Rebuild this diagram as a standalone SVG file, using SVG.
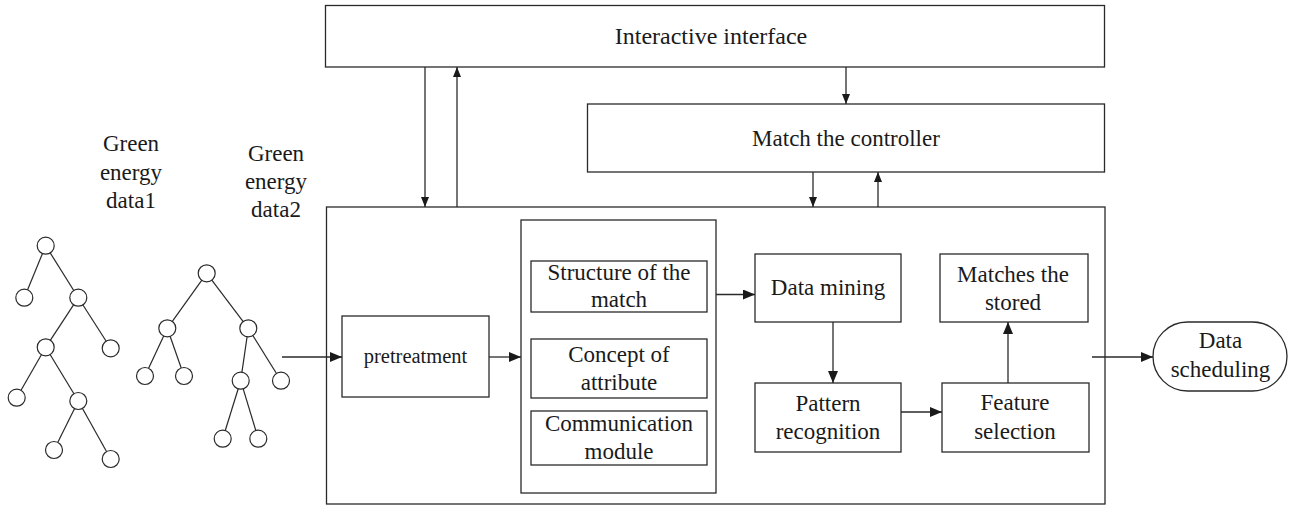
<svg xmlns="http://www.w3.org/2000/svg" width="1296" height="506" viewBox="0 0 1296 506">
<style>
.box{fill:none;stroke:#2a2a2a;stroke-width:1.3}
.ln{fill:none;stroke:#2a2a2a;stroke-width:1.3}
.tl{stroke:#2a2a2a;stroke-width:1.2}
.nd{fill:#fff;stroke:#2a2a2a;stroke-width:1.2}
text{font-family:"Liberation Serif","Times New Roman",serif;font-size:23px;fill:#1a1a1a;text-anchor:middle}
</style>
<defs>
<marker id="ah" viewBox="0 0 12 10" refX="12" refY="5" markerWidth="12" markerHeight="10" markerUnits="userSpaceOnUse" orient="auto"><path d="M0,0 L12,5 L0,10 z" fill="#1a1a1a"/></marker>
<marker id="as" viewBox="0 0 10 8" refX="10" refY="4" markerWidth="10" markerHeight="8" markerUnits="userSpaceOnUse" orient="auto"><path d="M0,0 L10,4 L0,8 z" fill="#1a1a1a"/></marker>
</defs>
<rect width="1296" height="506" fill="#fff"/>

<g id="tree1">
<line class="tl" x1="45.7" y1="245.7" x2="24.3" y2="297.7"/>
<line class="tl" x1="45.7" y1="245.7" x2="78.3" y2="297.7"/>
<line class="tl" x1="78.3" y1="297.7" x2="45.7" y2="347.3"/>
<line class="tl" x1="78.3" y1="297.7" x2="110.7" y2="348.3"/>
<line class="tl" x1="45.7" y1="347.3" x2="16.7" y2="397.7"/>
<line class="tl" x1="45.7" y1="347.3" x2="78.3" y2="401"/>
<line class="tl" x1="78.3" y1="401" x2="54" y2="450"/>
<line class="tl" x1="78.3" y1="401" x2="110.7" y2="459"/>
<circle class="nd" cx="45.7" cy="245.7" r="8.5"/>
<circle class="nd" cx="24.3" cy="297.7" r="8.5"/>
<circle class="nd" cx="78.3" cy="297.7" r="8.5"/>
<circle class="nd" cx="45.7" cy="347.3" r="8.5"/>
<circle class="nd" cx="110.7" cy="348.3" r="8.5"/>
<circle class="nd" cx="16.7" cy="397.7" r="8.5"/>
<circle class="nd" cx="78.3" cy="401" r="8.5"/>
<circle class="nd" cx="54" cy="450" r="8.5"/>
<circle class="nd" cx="110.7" cy="459" r="8.5"/>
<text x="131" y="151">Green</text>
<text x="131" y="180">energy</text>
<text x="131" y="208">data1</text>
</g>

<g id="tree2">
<line class="tl" x1="206.7" y1="273.3" x2="167.3" y2="328.3"/>
<line class="tl" x1="206.7" y1="273.3" x2="248.3" y2="328.3"/>
<line class="tl" x1="167.3" y1="328.3" x2="145" y2="376"/>
<line class="tl" x1="167.3" y1="328.3" x2="184" y2="376"/>
<line class="tl" x1="248.3" y1="328.3" x2="240.7" y2="380.7"/>
<line class="tl" x1="248.3" y1="328.3" x2="281" y2="380.7"/>
<line class="tl" x1="240.7" y1="380.7" x2="222.7" y2="438.7"/>
<line class="tl" x1="240.7" y1="380.7" x2="258.3" y2="438.7"/>
<circle class="nd" cx="206.7" cy="273.3" r="8.5"/>
<circle class="nd" cx="167.3" cy="328.3" r="8.5"/>
<circle class="nd" cx="248.3" cy="328.3" r="8.5"/>
<circle class="nd" cx="145" cy="376" r="8.5"/>
<circle class="nd" cx="184" cy="376" r="8.5"/>
<circle class="nd" cx="240.7" cy="380.7" r="8.5"/>
<circle class="nd" cx="281" cy="380.7" r="8.5"/>
<circle class="nd" cx="222.7" cy="438.7" r="8.5"/>
<circle class="nd" cx="258.3" cy="438.7" r="8.5"/>
<text x="276" y="161">Green</text>
<text x="276" y="189">energy</text>
<text x="276" y="217">data2</text>
</g>

<g id="interactive">
<rect class="box" x="325.5" y="5.5" width="779" height="61.5"/>
<text x="711" y="44" style="font-size:24px">Interactive interface</text>
</g>

<g id="controller">
<rect class="box" x="587.5" y="104" width="517" height="68"/>
<text x="846" y="146">Match the controller</text>
</g>

<g id="system">
<rect class="box" x="326.5" y="207" width="778.5" height="297"/>
</g>

<g id="pretreatment">
<rect class="box" x="342" y="316" width="147" height="81"/>
<text x="415.5" y="363" style="font-size:20.5px">pretreatment</text>
</g>

<g id="modules">
<rect class="box" x="521" y="220" width="195" height="273"/>
</g>

<g id="structure">
<rect class="box" x="531" y="261" width="176" height="51"/>
<text x="619" y="280">Structure of the</text>
<text x="619" y="307">match</text>
</g>

<g id="concept">
<rect class="box" x="531" y="339" width="176" height="59"/>
<text x="619" y="362">Concept of</text>
<text x="619" y="390">attribute</text>
</g>

<g id="communication">
<rect class="box" x="531" y="411" width="176" height="54"/>
<text x="619" y="431">Communication</text>
<text x="619" y="459">module</text>
</g>

<g id="datamining">
<rect class="box" x="755" y="254" width="146" height="68"/>
<text x="828" y="295">Data mining</text>
</g>

<g id="matches">
<rect class="box" x="940" y="254" width="148" height="68"/>
<text x="1013" y="282">Matches the</text>
<text x="1013" y="310">stored</text>
</g>

<g id="pattern">
<rect class="box" x="755" y="383" width="146" height="69"/>
<text x="828" y="411">Pattern</text>
<text x="828" y="439">recognition</text>
</g>

<g id="feature">
<rect class="box" x="942" y="383" width="147" height="69"/>
<text x="1015" y="410">Feature</text>
<text x="1015" y="439">selection</text>
</g>

<g id="scheduling">
<rect class="box" x="1153" y="322" width="134" height="69" rx="34.5" ry="34.5"/>
<text x="1220.5" y="348">Data</text>
<text x="1220.5" y="377">scheduling</text>
</g>

<g id="connectors">
<line class="ln" x1="425" y1="67" x2="425" y2="207" marker-end="url(#as)"/>
<line class="ln" x1="457" y1="207" x2="457" y2="67" marker-end="url(#as)"/>
<line class="ln" x1="846" y1="67" x2="846" y2="104" marker-end="url(#as)"/>
<line class="ln" x1="813" y1="172" x2="813" y2="207" marker-end="url(#as)"/>
<line class="ln" x1="878" y1="207" x2="878" y2="172" marker-end="url(#as)"/>
<line class="ln" x1="282" y1="357" x2="342" y2="357" marker-end="url(#ah)"/>
<line class="ln" x1="489" y1="357" x2="521" y2="357" marker-end="url(#ah)"/>
<line class="ln" x1="716" y1="294.5" x2="755" y2="294.5" marker-end="url(#ah)"/>
<line class="ln" x1="833" y1="322" x2="833" y2="383" marker-end="url(#ah)"/>
<line class="ln" x1="901" y1="412" x2="942" y2="412" marker-end="url(#ah)"/>
<line class="ln" x1="1008" y1="383" x2="1008" y2="322" marker-end="url(#ah)"/>
<line class="ln" x1="1092" y1="357" x2="1153" y2="357" marker-end="url(#ah)"/>
</g>
</svg>
